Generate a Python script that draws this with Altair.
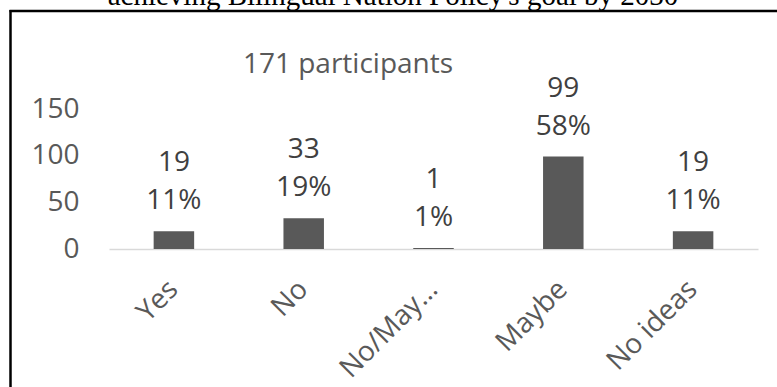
import altair as alt
import pandas as pd

# Survey answers and respondent counts
answers = ["Yes", "No", "No/May…", "Maybe", "No ideas"]
counts = [19, 33, 1, 99, 19]
y_ticks = [0, 50, 100, 150]
total_label = "171 participants"
heading = "achieving Bilingual Nation Policy's goal by 2030"

total = sum(counts)
df = pd.DataFrame({
    "answer": answers,
    "count": counts,
    "pct": [f"{round(c * 100 / total)}%" for c in counts],
})

FONT = "Open Sans"
AXIS_GREY = "#595959"
LABEL_GREY = "#404040"
BAR = "#595959"

W, H = 649, 140
LEFT, TOP, RIGHT, BOTTOM = 109, 109, 19, 138

x = alt.X(
    "answer:N", sort=answers, title=None,
    scale=alt.Scale(paddingInner=0.688, paddingOuter=0.344),
    axis=alt.Axis(
        labelAngle=-45, labelAlign="right", labelBaseline="middle",
        labelPadding=36, ticks=False, grid=False, labelOverlap=False,
        domainColor="#d9d9d9", domainWidth=1.5,
        labelFont=FONT, labelFontSize=28, labelColor=AXIS_GREY,
    ),
)
y = alt.Y(
    "count:Q", title=None,
    scale=alt.Scale(domain=[0, 150], nice=False),
    axis=alt.Axis(
        values=y_ticks, domain=False, ticks=False, grid=False,
        labelPadding=30, labelFont=FONT, labelFontSize=28,
        labelColor=AXIS_GREY,
    ),
)

base = alt.Chart(df)
bars = base.mark_bar(color=BAR).encode(x=x, y=y)
pct_text = base.mark_text(
    font=FONT, fontSize=28, color=LABEL_GREY, baseline="middle", dy=-30
).encode(x=alt.X("answer:N", sort=answers), y="count:Q", text="pct:N")
count_text = base.mark_text(
    font=FONT, fontSize=28, color=LABEL_GREY, baseline="middle", dy=-68
).encode(x=alt.X("answer:N", sort=answers), y="count:Q", text="count:Q")

one = alt.Chart(pd.DataFrame({"k": [0]}))
participants = one.mark_text(
    font=FONT, fontSize=28, color=AXIS_GREY, baseline="middle"
).encode(x=alt.value(239), y=alt.value(-44), text=alt.value(total_label))
title_text = one.mark_text(
    font="Liberation Serif", fontSize=29, color="black", baseline="alphabetic"
).encode(x=alt.value(284), y=alt.value(-104), text=alt.value(heading))

# frame around the chart area (left and top edges)
frame_left = one.mark_rule(color="black", strokeWidth=2.5).encode(
    x=alt.value(-98.5), y=alt.value(-99), y2=alt.value(H + BOTTOM + 5)
)
frame_top = one.mark_rule(color="black", strokeWidth=2.5).encode(
    x=alt.value(-99.5), x2=alt.value(W + RIGHT + 5), y=alt.value(-98)
)

chart = alt.layer(
    bars, pct_text, count_text, participants, title_text, frame_left, frame_top
).properties(
    width=W, height=H,
    autosize=alt.AutoSizeParams(type="none"),
    padding={"left": LEFT, "top": TOP, "right": RIGHT, "bottom": BOTTOM},
    background="white",
).configure_view(stroke=None)

chart.save("out.html", embed_options={"renderer": "svg", "actions": False})
